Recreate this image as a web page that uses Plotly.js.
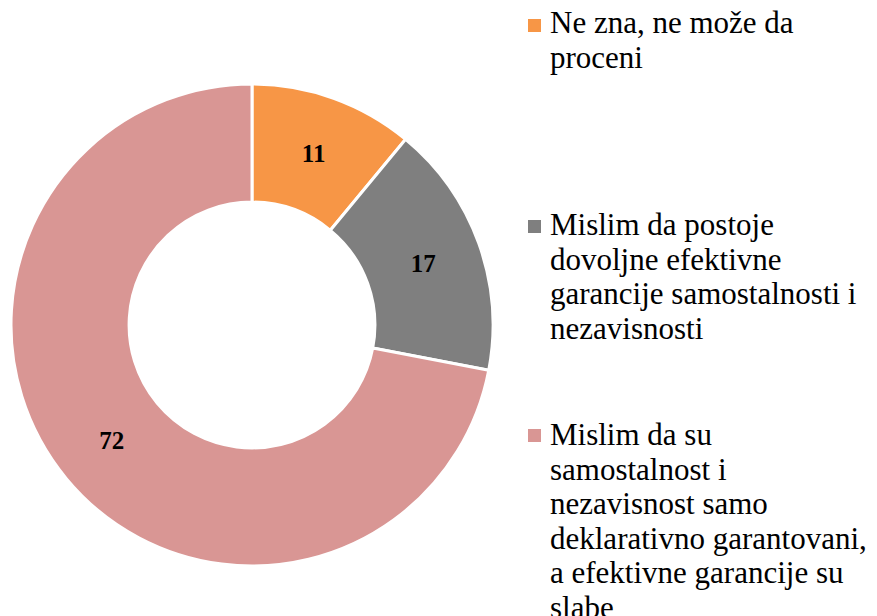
<!DOCTYPE html>
<html>
<head>
<meta charset="utf-8">
<script src="https://cdn.plot.ly/plotly-3.0.1.min.js"></script>
<style>html,body{margin:0;padding:0;background:#fff;}#chart{width:877px;height:616px;}</style>
</head>
<body>
<div id="chart"></div>
<script>
const categories = [
  "Ne zna, ne može da<br>proceni",
  "Mislim da postoje<br>dovoljne efektivne<br>garancije samostalnosti i<br>nezavisnosti",
  "Mislim da su<br>samostalnost i<br>nezavisnost samo<br>deklarativno garantovani,<br>a efektivne garancije su<br>slabe"
];
const values = [11, 17, 72];
const colors = ["#F79646", "#7F7F7F", "#D99694"];

const W = 877, H = 616;
const px = x => x / W;
const py = y => 1 - y / H;

const LEG_FONT = 31;
const LINE_GAP = 34.5;
const firstBaselines = [33, 235, 445];
const squareTops = [19, 220, 429];

const annotations = [];
categories.forEach((c, i) => {
  c.split('<br>').forEach((line, j) => {
    const baseline = firstBaselines[i] + j * LINE_GAP;
    annotations.push({
      text: line, xref: 'paper', yref: 'paper',
      x: px(548), y: py(baseline - 0.96 * LEG_FONT), xanchor: 'left', yanchor: 'top',
      align: 'left', showarrow: false,
      font: {family: 'Liberation Serif, serif', size: LEG_FONT, color: '#000'}
    });
  });
});
const shapes = colors.map((col, i) => ({
  type: 'rect', xref: 'paper', yref: 'paper',
  x0: px(528), x1: px(541), y0: py(squareTops[i]), y1: py(squareTops[i] + 13),
  fillcolor: col, line: {width: 0}
}));

const trace = {
  type: 'pie', labels: categories, values: values,
  hole: 0.51, sort: false, direction: 'clockwise', rotation: 0,
  marker: {colors: colors, line: {color: '#fff', width: 3}},
  textinfo: 'value', textposition: 'inside', insidetextorientation: 'horizontal',
  textfont: {family: 'Liberation Serif, serif', size: 25, color: '#000', weight: 'bold'},
  domain: {x: [px(11), px(493)], y: [py(566), py(84)]},
  showlegend: false, hoverinfo: 'label+value'
};

Plotly.newPlot('chart', [trace], {
  width: W, height: H, margin: {l: 0, r: 0, t: 0, b: 0},
  paper_bgcolor: '#fff', plot_bgcolor: '#fff',
  annotations: annotations, shapes: shapes,
  font: {family: 'Liberation Serif, serif'}
}, {displayModeBar: false});
</script>
</body>
</html>
